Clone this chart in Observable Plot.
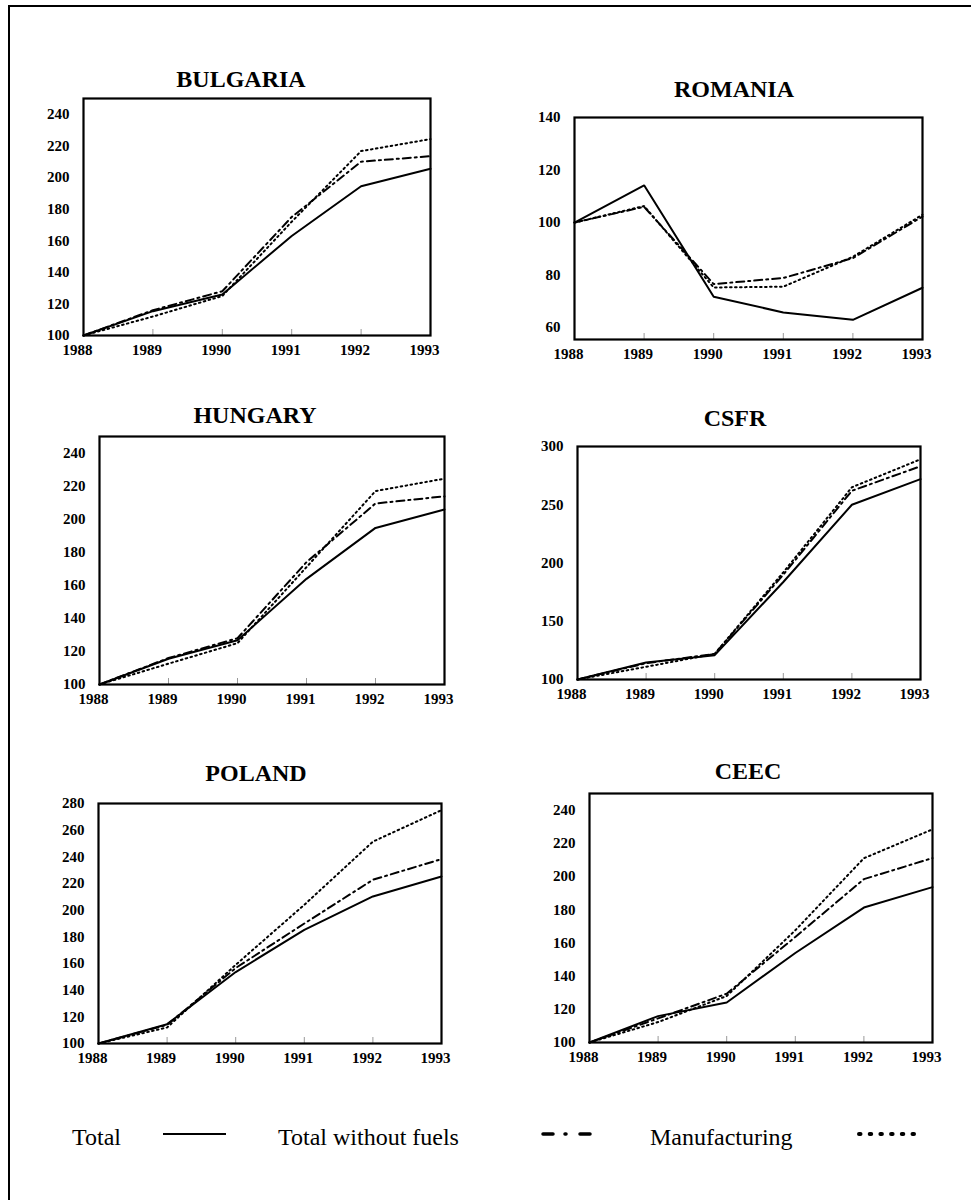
<!DOCTYPE html>
<html>
<head>
<meta charset="utf-8">
<script src="https://cdn.jsdelivr.net/npm/d3@7"></script>
<script src="https://cdn.jsdelivr.net/npm/@observablehq/plot@0.6"></script>
<style>
  html, body { margin: 0; padding: 0; background: #fff; overflow: hidden; }
  #page { position: relative; width: 971px; height: 1200px; background: #fff; overflow: hidden; }
  #border { position: absolute; left: 8px; top: 5px; width: 2000px; height: 2000px;
            border-left: 2px solid #000; border-top: 2px solid #000; }
  .panel { position: absolute; }
  #overlay { position: absolute; left: 0; top: 0; }
  .panel svg text { font-size: 15px; font-weight: bold; font-family: 'Liberation Serif', 'Times New Roman', Times, serif; }
</style>
</head>
<body>
<div id="page">
  <div id="border"></div>
</div>
<script>
// ---- Data (index, 1988 = 100) ----
const years = [1988, 1989, 1990, 1991, 1992, 1993];
const seriesNames = ["Total", "Total without fuels", "Manufacturing"];

const bulgariaTotal  = [100, 115.4, 126.0, 163.0, 194.5, 205.5];
const bulgariaNoFuel = [100, 116.0, 128.0, 175.0, 210.0, 213.5];
const bulgariaManuf  = [100, 112.0, 125.0, 172.0, 216.7, 224.3];

const romaniaTotal   = [100, 114.2, 71.8, 65.8, 63.0, 75.2];
const romaniaNoFuel  = [100, 106.0, 76.6, 78.9, 86.5, 102.3];
const romaniaManuf   = [100, 106.3, 75.3, 75.6, 87.0, 103.0];

const hungaryTotal   = [100, 115.6, 126.8, 163.9, 194.7, 205.9];
const hungaryNoFuel  = [100, 116.0, 128.0, 174.0, 209.5, 213.8];
const hungaryManuf   = [100, 112.6, 125.0, 171.0, 217.0, 224.5];

const csfrTotal      = [100, 114.6, 120.9, 183.7, 250.0, 272.0];
const csfrNoFuel     = [100, 114.0, 122.0, 190.0, 262.0, 283.0];
const csfrManuf      = [100, 110.9, 122.0, 192.0, 265.0, 289.0];

const polandTotal    = [100, 114.5, 153.6, 185.2, 210.3, 225.3];
const polandNoFuel   = [100, 114.0, 156.6, 190.0, 222.8, 238.3];
const polandManuf    = [100, 112.0, 159.0, 204.0, 251.4, 275.0];

const ceecTotal      = [100, 115.9, 124.1, 153.9, 181.3, 193.6];
const ceecNoFuel     = [100, 114.5, 129.4, 163.6, 198.4, 211.1];
const ceecManuf      = [100, 112.3, 128.0, 167.6, 211.0, 228.4];

const countryNames = ["BULGARIA", "ROMANIA", "HUNGARY", "CSFR", "POLAND", "CEEC"];
const yDomains = [[100, 250], [55.5, 140], [100, 250], [100, 300], [100, 280], [100, 250]];
const yTicks = [
  [100, 120, 140, 160, 180, 200, 220, 240],
  [60, 80, 100, 120, 140],
  [100, 120, 140, 160, 180, 200, 220, 240],
  [100, 150, 200, 250, 300],
  [100, 120, 140, 160, 180, 200, 220, 240, 260, 280],
  [100, 120, 140, 160, 180, 200, 220, 240]
];
const seriesData = [
  [bulgariaTotal, bulgariaNoFuel, bulgariaManuf],
  [romaniaTotal, romaniaNoFuel, romaniaManuf],
  [hungaryTotal, hungaryNoFuel, hungaryManuf],
  [csfrTotal, csfrNoFuel, csfrManuf],
  [polandTotal, polandNoFuel, polandManuf],
  [ceecTotal, ceecNoFuel, ceecManuf]
];

// ---- Layout (frame boxes in page pixels, title anchor) ----
const frames = [
  {x0: 83,  x1: 430, y0: 98,  y1: 335, tx: 241, ty: 87},
  {x0: 574, x1: 922, y0: 117, y1: 339, tx: 734, ty: 97},
  {x0: 99,  x1: 444, y0: 436, y1: 684, tx: 255, ty: 423},
  {x0: 577, x1: 920, y0: 446, y1: 679, tx: 735, ty: 426},
  {x0: 98,  x1: 441, y0: 803, y1: 1043, tx: 256, ty: 781},
  {x0: 589, x1: 932, y0: 793, y1: 1042, tx: 748, ty: 779}
];
const dashes = [null, "8,4,2,4", "1.6,3.4"];

const page = document.getElementById("page");
const ML = 60, MR = 20, MT = 12, MB = 34;
const fontFam = "'Liberation Serif', 'Times New Roman', Times, serif";

frames.forEach((f, idx) => {
  const fw = f.x1 - f.x0, fh = f.y1 - f.y0;
  const [d0, d1] = yDomains[idx];
  const rows = [];
  seriesData[idx].forEach((arr, s) => {
    years.forEach((yr, i) => rows.push({year: yr, value: arr[i], series: seriesNames[s]}));
  });
  const tickLen = 6 / fh * (d1 - d0);
  const marks = [
    Plot.ruleX(years.slice(1, -1), {y1: d0, y2: d0 + tickLen, stroke: "#999", strokeWidth: 1}),
  ];
  seriesNames.forEach((name, s) => {
    const opts = {x: "year", y: "value", stroke: "#000", strokeWidth: 2, strokeLinejoin: "miter"};
    if (dashes[s]) opts.strokeDasharray = dashes[s];
    marks.push(Plot.line(rows.filter(r => r.series === name), opts));
  });
  marks.push(Plot.frame({stroke: "#000", strokeWidth: 2.2}));
  marks.push(Plot.axisX({ticks: years, tickSize: 0, tickPadding: 9, dx: -6, fontSize: 15, fontWeight: "bold",
                         tickFormat: d => String(d), label: null}));
  marks.push(Plot.axisY({ticks: yTicks[idx], tickSize: 0, tickPadding: 14, fontSize: 15, fontWeight: "bold",
                         label: null, tickFormat: d => String(d)}));
  const chart = Plot.plot({
    width: fw + ML + MR,
    height: fh + MT + MB,
    marginLeft: ML, marginRight: MR, marginTop: MT, marginBottom: MB,
    x: {domain: [1988, 1993]},
    y: {domain: [d0, d1]},
    style: {fontFamily: fontFam, fontSize: "15px", fontWeight: "bold", color: "#000",
            background: "transparent", overflow: "visible"},
    marks
  });
  const wrap = document.createElement("div");
  wrap.className = "panel";
  wrap.style.left = (f.x0 - ML) + "px";
  wrap.style.top = (f.y0 - MT) + "px";
  wrap.appendChild(chart);
  page.appendChild(wrap);
});

// ---- Titles and legend overlay ----
const ns = "http://www.w3.org/2000/svg";
const svg = document.createElementNS(ns, "svg");
svg.setAttribute("id", "overlay");
svg.setAttribute("width", 971);
svg.setAttribute("height", 1200);
page.appendChild(svg);

function addText(str, x, y, anchor, size, weight) {
  const t = document.createElementNS(ns, "text");
  t.setAttribute("x", x); t.setAttribute("y", y);
  t.setAttribute("text-anchor", anchor);
  t.setAttribute("font-family", fontFam);
  t.setAttribute("font-size", size);
  t.setAttribute("font-weight", weight);
  t.setAttribute("fill", "#000");
  t.textContent = str;
  svg.appendChild(t);
}
frames.forEach((f, i) => addText(countryNames[i], f.tx, f.ty, "middle", 24, "bold"));

const legendItems = [
  {tx: 72,  lx0: 163, lx1: 226, dash: null, width: 2, cap: "butt"},
  {tx: 278, lx0: 543, lx1: 595, dash: "10,12,1,14,10", width: 3.5, cap: "round"},
  {tx: 650, lx0: 859, lx1: 919, dash: "1.5,9.2", width: 4, cap: "round"}
];
legendItems.forEach((it, i) => {
  addText(seriesNames[i], it.tx, 1145, "start", 24, "normal");
  const l = document.createElementNS(ns, "line");
  l.setAttribute("x1", it.lx0); l.setAttribute("x2", it.lx1);
  l.setAttribute("y1", 1134); l.setAttribute("y2", 1134);
  l.setAttribute("stroke", "#000");
  l.setAttribute("stroke-width", it.width);
  l.setAttribute("stroke-linecap", it.cap);
  if (it.dash) l.setAttribute("stroke-dasharray", it.dash);
  svg.appendChild(l);
});
</script>
</body>
</html>
